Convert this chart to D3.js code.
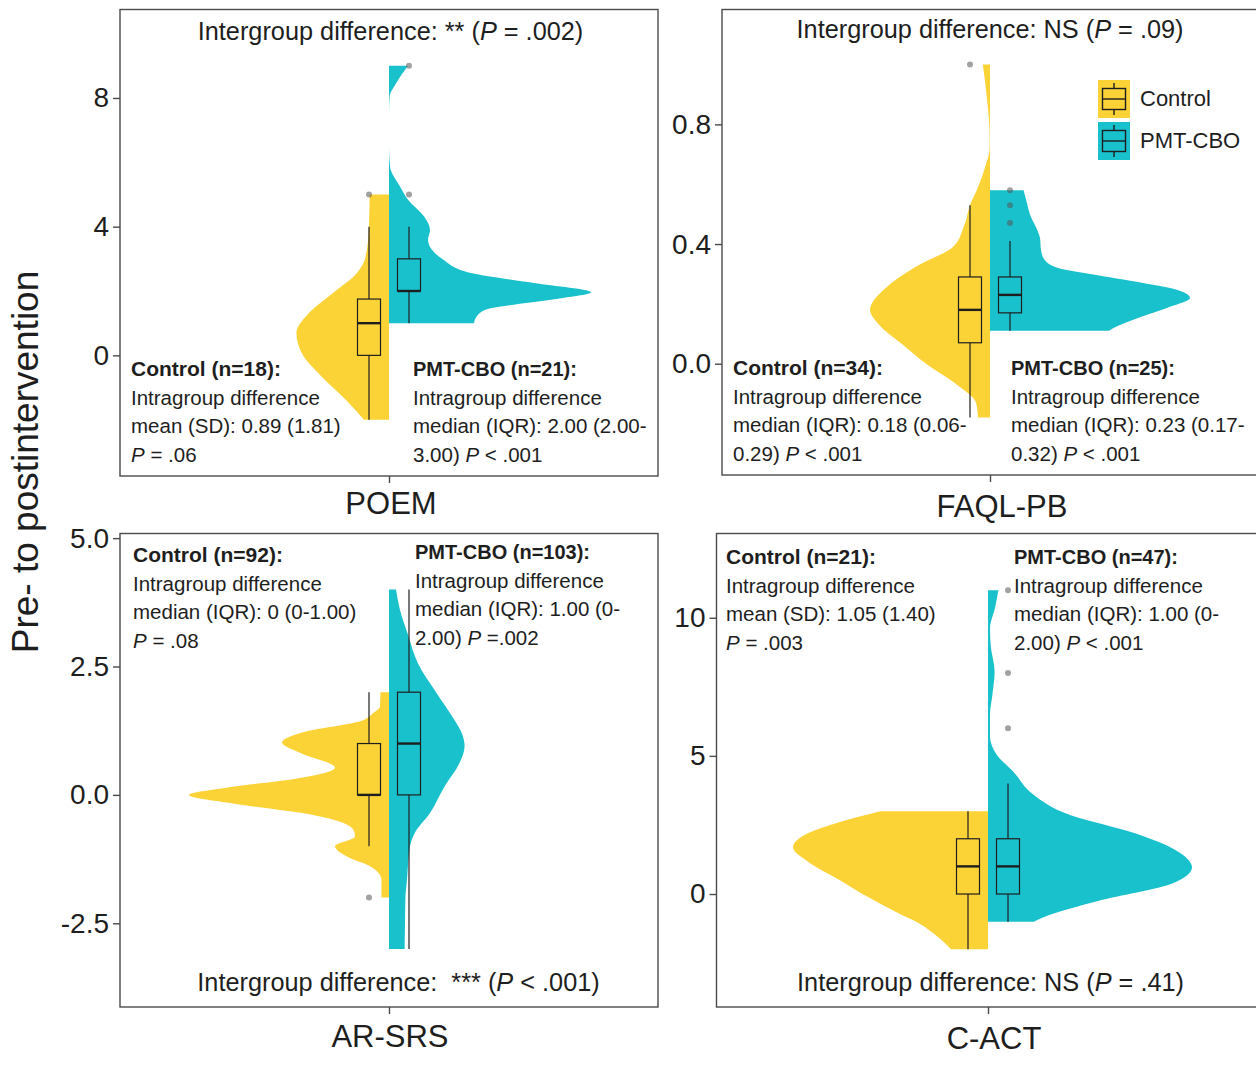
<!DOCTYPE html>
<html><head><meta charset="utf-8">
<script src="https://cdn.jsdelivr.net/npm/d3@7"></script>
<style>
body{margin:0;background:#fff}
svg{display:block}
text{font-family:"Liberation Sans",Arial,sans-serif;white-space:pre}
</style></head>
<body>
<svg id="chart" width="1256" height="1084"></svg>
<script>
// ---------------- DATA ----------------
const measures = ["POEM", "FAQL-PB", "AR-SRS", "C-ACT"];
const groups = ["Control", "PMT-CBO"];
const groupColors = ["#FCD337", "#19C1CD"];
const yTitle = "Pre- to postintervention";

const yTicks = [[0, 4, 8], [0, 0.4, 0.8], [-2.5, 0, 2.5, 5], [0, 5, 10]];
const yTickFormats = ["d", ".1f", ".1f", "d"];
const yLimits = [[-3.75, 10.75], [-0.372, 1.184], [-4.13, 5.09], [-4.09, 13.05]];

// density profiles [value, relative density]
const controlDensity = [
  [[-2,0.125],[-1.36,0.22],[-0.64,0.34],[0,0.43],[0.7,0.463],[1.32,0.40],[1.94,0.28],[2.56,0.16],[3,0.12],[4,0.10],[5,0.097]],
  [[-0.18,0.06],[-0.13,0.07],[-0.07,0.165],[0,0.32],[0.06,0.43],[0.13,0.555],[0.18,0.6],[0.26,0.51],[0.33,0.355],[0.39,0.185],[0.46,0.13],[0.53,0.10],[0.59,0.06],[0.66,0.023],[0.72,0.002],[0.77,0.002],[0.88,0.014],[1.0,0.036]],
  [[-2,0.038],[-1.65,0.038],[-1.39,0.095],[-1.2,0.21],[-1.0,0.27],[-0.81,0.17],[-0.67,0.18],[-0.39,0.38],[-0.18,0.755],[0,1.0],[0.14,0.815],[0.32,0.46],[0.53,0.27],[0.81,0.44],[1.02,0.535],[1.23,0.42],[1.44,0.14],[1.59,0.08],[1.72,0.045],[2,0.043]],
  [[-2,0.185],[-1.56,0.25],[-1.04,0.35],[-0.65,0.46],[-0.13,0.595],[0.52,0.745],[1.17,0.90],[1.69,0.975],[2.2,0.90],[2.6,0.745],[3,0.538]]
];
const pmtDensity = [
  [[1,0.425],[1.22,0.44],[1.43,0.49],[1.74,0.825],[1.96,1.01],[2.25,0.725],[2.56,0.41],[2.98,0.27],[3.6,0.195],[3.9,0.205],[4.32,0.175],[4.84,0.095],[5.25,0.055],[5.87,0.005],[6.5,0],[7.5,0],[8.04,0.003],[8.45,0.035],[9,0.095]],
  [[0.11,0.595],[0.12,0.62],[0.15,0.73],[0.19,0.90],[0.22,1.0],[0.25,0.92],[0.27,0.765],[0.3,0.5],[0.32,0.34],[0.35,0.27],[0.38,0.255],[0.42,0.25],[0.45,0.234],[0.49,0.205],[0.55,0.18],[0.58,0.168]],
  [[-3,0.078],[-2.5,0.08],[-2.0,0.082],[-1.65,0.09],[-1.0,0.105],[-0.73,0.13],[-0.35,0.205],[0.18,0.28],[0.6,0.35],[0.95,0.378],[1.16,0.368],[1.5,0.32],[2.0,0.235],[2.56,0.145],[3.12,0.095],[3.6,0.055],[4.0,0.035]],
  [[-1,0.23],[-0.78,0.30],[-0.26,0.545],[0.39,0.925],[0.97,1.02],[1.56,0.945],[2.2,0.735],[2.86,0.41],[3.64,0.22],[4.4,0.13],[5.06,0.042],[5.71,0.01],[6.49,0.01],[7.27,0.023],[8.05,0.033],[8.96,0.014],[9.6,0.01],[10.39,0.036],[11,0.052]]
];

// box stats [lower whisker, Q1, median, Q3, upper whisker]
const controlBox = [[-2,0,1,1.75,4],[-0.18,0.07,0.18,0.29,0.53],[-1,0,0,1,2],[-2,0,1,2,3]];
const pmtBox = [[1,2,2,3,4],[0.11,0.17,0.23,0.29,0.41],[-3,0,1,2,4],[-1,0,1,2,4]];
const controlOutliers = [[5],[1.0],[-2],[]];
const pmtOutliers = [[5,9],[0.47,0.53,0.58],[],[6,8,11]];

const intergroupNotes = [
  "Intergroup difference: ** (P = .002)",
  "Intergroup difference: NS (P = .09)",
  "Intergroup difference:  *** (P < .001)",
  "Intergroup difference: NS (P = .41)"
];
const controlNotes = [
  ["Control (n=18):", "Intragroup difference", "mean (SD): 0.89 (1.81)", "P = .06"],
  ["Control (n=34):", "Intragroup difference", "median (IQR): 0.18 (0.06-", "0.29) P < .001"],
  ["Control (n=92):", "Intragroup difference", "median (IQR): 0 (0-1.00)", "P = .08"],
  ["Control (n=21):", "Intragroup difference", "mean (SD): 1.05 (1.40)", "P = .003"]
];
const pmtNotes = [
  ["PMT-CBO (n=21):", "Intragroup difference", "median (IQR): 2.00 (2.00-", "3.00) P < .001"],
  ["PMT-CBO (n=25):", "Intragroup difference", "median (IQR): 0.23 (0.17-", "0.32) P < .001"],
  ["PMT-CBO (n=103):", "Intragroup difference", "median (IQR): 1.00 (0-", "2.00) P =.002"],
  ["PMT-CBO (n=47):", "Intragroup difference", "median (IQR): 1.00 (0-", "2.00) P < .001"]
];

// ---------------- LAYOUT ----------------
const layout = [
  {x0:120, x1:658, y0:9.5, y1:476, xlabDx:2, xlabY:514, interY:40, interDx:1.5, ctrl:[131,376], pmt:[413,376]},
  {x0:722, x1:1258, y0:9.5, y1:475, xlabDx:12, xlabY:517, interY:38, interDx:0, ctrl:[733,375], pmt:[1011,375]},
  {x0:120, x1:658, y0:533.5, y1:1007, xlabDx:1, xlabY:1047, interY:991, interDx:9.5, ctrl:[133,562], pmt:[415,559]},
  {x0:716.5, x1:1259.5, y0:533.5, y1:1007, xlabDx:6, xlabY:1049, interY:991, interDx:2.5, ctrl:[726,564], pmt:[1014,564]}
];
const lineGap = 28.5;
const boxOffset = 20, boxW = 23;
const ink = "#1e1e1e";

const svg = d3.select("#chart");
svg.append("rect").attr("width",1256).attr("height",1084).attr("fill","#fff");

function richText(g, x, y, str, size, weight, anchor) {
  const t = g.append("text").attr("x", x).attr("y", y)
    .attr("font-size", size).attr("font-weight", weight || "normal")
    .attr("fill", ink).attr("text-anchor", anchor || "start");
  str.split(/(\bP\b)/).forEach(part => {
    if (part === "") return;
    t.append("tspan").text(part).attr("font-style", part === "P" ? "italic" : "normal");
  });
  return t;
}

const wScale = d3.scaleLinear().domain([0, 1]).range([0, 200]);

measures.forEach((m, i) => {
  const L = layout[i];
  const g = svg.append("g");
  const y = d3.scaleLinear().domain(yLimits[i]).range([L.y1, L.y0]);
  const x = d3.scaleLinear().domain([-1, 1]).range([L.x0, L.x1]);
  const cx = x(0);

  // violins
  const dens = [controlDensity[i], pmtDensity[i]];
  dens.forEach((d, k) => {
    const dir = k === 0 ? -1 : 1;
    const area = d3.area()
      .y(p => y(p[0]))
      .x0(cx)
      .x1(p => cx + dir * wScale(p[1]))
      .curve(d3.curveMonotoneY);
    g.append("path").datum(d).attr("d", area).attr("fill", groupColors[k]);
  });

  // boxplots
  const boxes = [controlBox[i], pmtBox[i]];
  const outs = [controlOutliers[i], pmtOutliers[i]];
  boxes.forEach((b, k) => {
    const bx = cx + (k === 0 ? -boxOffset : boxOffset);
    g.append("line").attr("x1", bx).attr("x2", bx).attr("y1", y(b[0])).attr("y2", y(b[1]))
      .attr("stroke", ink).attr("stroke-width", 1.2);
    g.append("line").attr("x1", bx).attr("x2", bx).attr("y1", y(b[3])).attr("y2", y(b[4]))
      .attr("stroke", ink).attr("stroke-width", 1.2);
    g.append("rect").attr("x", bx - boxW/2).attr("width", boxW)
      .attr("y", y(b[3])).attr("height", y(b[1]) - y(b[3]))
      .attr("fill", groupColors[k]).attr("stroke", ink).attr("stroke-width", 1.2);
    g.append("line").attr("x1", bx - boxW/2).attr("x2", bx + boxW/2).attr("y1", y(b[2])).attr("y2", y(b[2]))
      .attr("stroke", ink).attr("stroke-width", 2.4);
    g.selectAll(null).data(outs[k]).enter().append("circle")
      .attr("cx", bx).attr("cy", v => y(v)).attr("r", 3)
      .attr("fill", "#555").attr("fill-opacity", 0.55);
  });

  // frame
  g.append("rect").attr("x", L.x0).attr("y", L.y0).attr("width", L.x1 - L.x0).attr("height", L.y1 - L.y0)
    .attr("fill", "none").attr("stroke", "#4a4a4a").attr("stroke-width", 1.4);

  // y axis
  const fmt = d3.format(yTickFormats[i]);
  const ya = g.append("g").attr("transform", `translate(${L.x0},0)`)
    .call(d3.axisLeft(y).tickValues(yTicks[i]).tickFormat(v => fmt(v).replace("\u2212", "-")).tickSize(7).tickPadding(4));
  ya.select(".domain").remove();
  ya.selectAll(".tick line").attr("stroke", "#4a4a4a").attr("stroke-width", 1.4);
  ya.selectAll(".tick text").attr("font-size", 28).attr("fill", ink)
    .attr("font-family", '"Liberation Sans",Arial,sans-serif');

  // x axis (single category)
  const xa = g.append("g").attr("transform", `translate(0,${L.y1})`)
    .call(d3.axisBottom(x).tickValues([0]).tickFormat(() => "").tickSize(7));
  xa.select(".domain").remove();
  xa.selectAll(".tick line").attr("stroke", "#4a4a4a").attr("stroke-width", 1.4);
  g.append("text").attr("x", cx + L.xlabDx).attr("y", L.xlabY).attr("text-anchor", "middle")
    .attr("font-size", 31).attr("fill", ink).text(m);

  // intergroup note
  richText(g, cx + L.interDx, L.interY, intergroupNotes[i], 25.3, "normal", "middle");

  // intragroup notes
  controlNotes[i].forEach((s, j) => richText(g, L.ctrl[0], L.ctrl[1] + j * lineGap, s, j === 0 ? 21 : 20.5, j === 0 ? "bold" : "normal"));
  pmtNotes[i].forEach((s, j) => richText(g, L.pmt[0], L.pmt[1] + j * lineGap, s, j === 0 ? 20 : 20.5, j === 0 ? "bold" : "normal"));
});

// y-axis title
svg.append("text").attr("transform", "translate(38,462) rotate(-90)").attr("text-anchor", "middle")
  .attr("font-size", 37).attr("fill", ink).text(yTitle);

// legend
const legend = svg.append("g").attr("transform", "translate(1098,80)");
groups.forEach((gname, k) => {
  const lg = legend.append("g").attr("transform", `translate(0,${k * 42})`);
  lg.append("rect").attr("width", 32).attr("height", 38).attr("fill", groupColors[k]);
  lg.append("line").attr("x1", 16).attr("x2", 16).attr("y1", 3).attr("y2", 35).attr("stroke", ink).attr("stroke-width", 1.4);
  lg.append("rect").attr("x", 4.5).attr("y", 8.5).attr("width", 23).attr("height", 21)
    .attr("fill", groupColors[k]).attr("stroke", ink).attr("stroke-width", 1.4);
  lg.append("line").attr("x1", 4.5).attr("x2", 27.5).attr("y1", 19).attr("y2", 19).attr("stroke", ink).attr("stroke-width", 1.4);
  lg.append("text").attr("x", 42).attr("y", 26).attr("font-size", 22).attr("fill", ink).text(gname);
});
</script>
</body></html>
